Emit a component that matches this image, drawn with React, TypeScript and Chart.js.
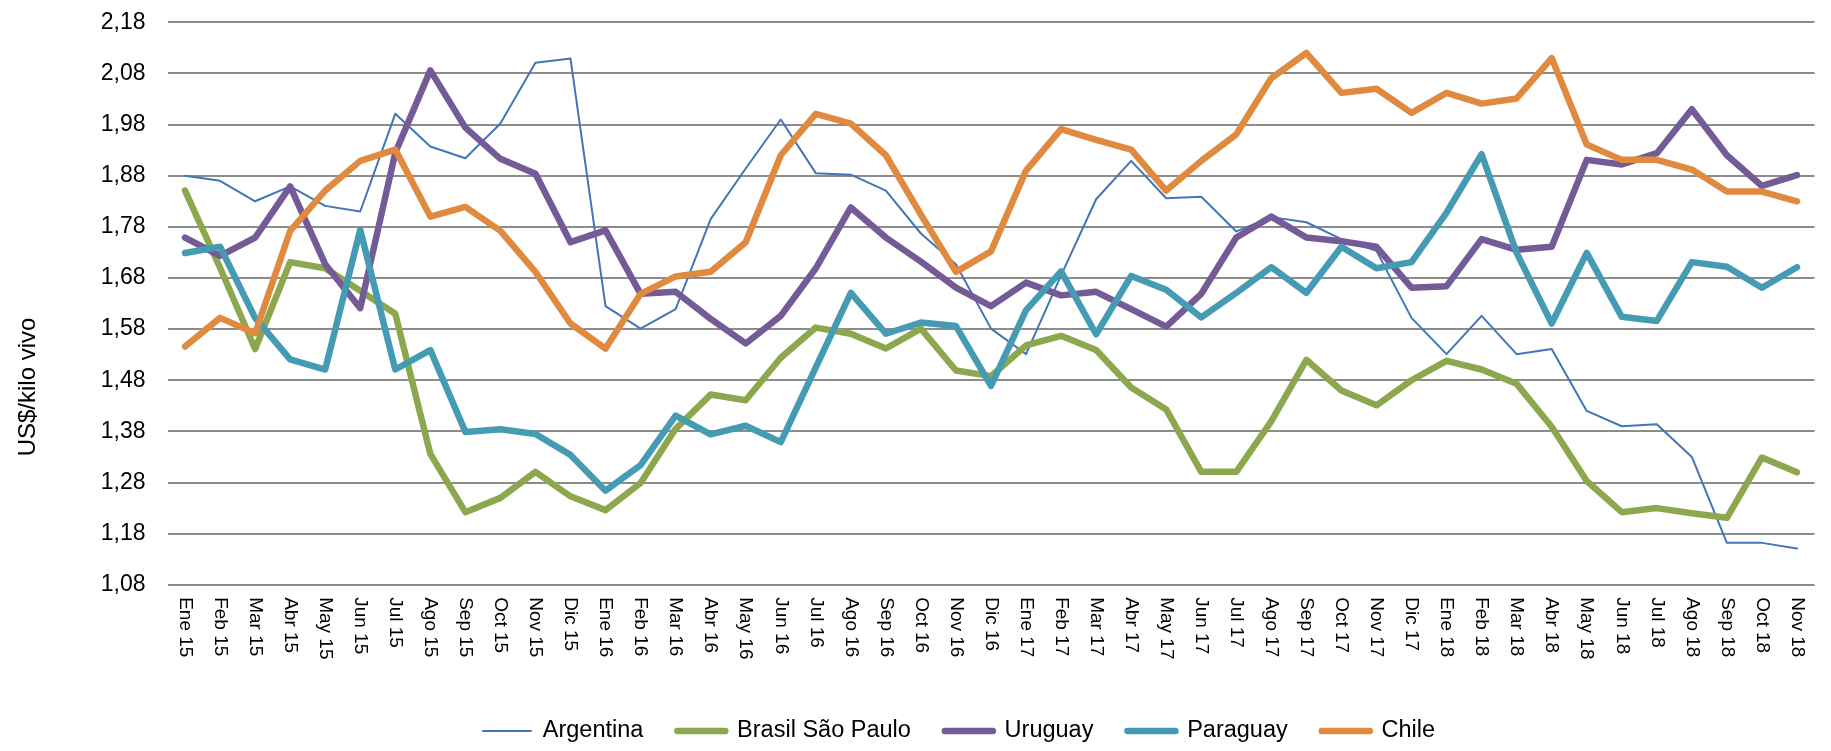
import React, { useEffect, useRef } from "react";
import { Chart, registerables } from "chart.js";

Chart.register(...registerables);

const labels = [
  "Ene 15", "Feb 15", "Mar 15", "Abr 15", "May 15", "Jun 15", "Jul 15", "Ago 15", "Sep 15", "Oct 15", "Nov 15", "Dic 15",
  "Ene 16", "Feb 16", "Mar 16", "Abr 16", "May 16", "Jun 16", "Jul 16", "Ago 16", "Sep 16", "Oct 16", "Nov 16", "Dic 16",
  "Ene 17", "Feb 17", "Mar 17", "Abr 17", "May 17", "Jun 17", "Jul 17", "Ago 17", "Sep 17", "Oct 17", "Nov 17", "Dic 17",
  "Ene 18", "Feb 18", "Mar 18", "Abr 18", "May 18", "Jun 18", "Jul 18", "Ago 18", "Sep 18", "Oct 18", "Nov 18",
];

const argentina = [
  1.88, 1.87, 1.83, 1.859, 1.821, 1.81, 2.001, 1.937, 1.914, 1.982, 2.101, 2.109,
  1.625, 1.581, 1.619, 1.795, 1.894, 1.99, 1.885, 1.882, 1.851, 1.767, 1.707, 1.581,
  1.531, 1.685, 1.834, 1.909, 1.836, 1.839, 1.771, 1.799, 1.789, 1.756, 1.733, 1.602,
  1.531, 1.606, 1.531, 1.541, 1.42, 1.39, 1.394, 1.33, 1.162, 1.162, 1.151,
];

const brasil = [
  1.851, 1.7, 1.541, 1.711, 1.699, 1.655, 1.61, 1.336, 1.222, 1.25, 1.301, 1.253,
  1.226, 1.279, 1.385, 1.452, 1.441, 1.524, 1.583, 1.571, 1.542, 1.581, 1.499, 1.488,
  1.548, 1.567, 1.539, 1.466, 1.423, 1.301, 1.301, 1.4, 1.52, 1.46, 1.431, 1.48,
  1.518, 1.501, 1.473, 1.389, 1.283, 1.222, 1.23, 1.22, 1.211, 1.329, 1.3,
];

const uruguay = [
  1.759, 1.723, 1.759, 1.859, 1.707, 1.621, 1.925, 2.086, 1.974, 1.913, 1.884, 1.75,
  1.773, 1.649, 1.653, 1.6, 1.552, 1.606, 1.699, 1.818, 1.759, 1.712, 1.661, 1.625,
  1.671, 1.646, 1.653, 1.619, 1.585, 1.649, 1.759, 1.8, 1.759, 1.752, 1.741, 1.661,
  1.664, 1.756, 1.735, 1.741, 1.911, 1.902, 1.924, 2.01, 1.92, 1.86, 1.881,
];

const paraguay = [
  1.729, 1.741, 1.602, 1.521, 1.501, 1.774, 1.501, 1.539, 1.379, 1.384, 1.375, 1.334,
  1.264, 1.314, 1.411, 1.374, 1.391, 1.359, 1.505, 1.651, 1.571, 1.593, 1.586, 1.469,
  1.617, 1.693, 1.57, 1.684, 1.657, 1.603, 1.651, 1.701, 1.651, 1.741, 1.699, 1.711,
  1.808, 1.922, 1.729, 1.591, 1.729, 1.604, 1.596, 1.711, 1.702, 1.661, 1.701,
];

const chile = [
  1.546, 1.602, 1.572, 1.772, 1.851, 1.909, 1.931, 1.8, 1.819, 1.772, 1.692, 1.591,
  1.542, 1.649, 1.683, 1.692, 1.75, 1.92, 2.001, 1.982, 1.92, 1.804, 1.692, 1.732,
  1.89, 1.971, 1.95, 1.931, 1.851, 1.909, 1.961, 2.071, 2.12, 2.042, 2.05, 2.003,
  2.042, 2.021, 2.031, 2.11, 1.941, 1.911, 1.911, 1.892, 1.849, 1.849, 1.83,
];

const yTicks = [1.08, 1.18, 1.28, 1.38, 1.48, 1.58, 1.68, 1.78, 1.88, 1.98, 2.08, 2.18];

const seriesNames = ["Argentina", "Brasil São Paulo", "Uruguay", "Paraguay", "Chile"];
const seriesData = [argentina, brasil, uruguay, paraguay, chile];
const seriesColors = ["#4475b5", "#8ca74d", "#745a96", "#449bb3", "#df8a3f"];
const seriesWidths = [2, 6.5, 6.5, 6.5, 6.5];
const yTitle = "US$/kilo vivo";

const FONT = "'Liberation Sans', Arial, Helvetica, sans-serif";
const LEGEND_FONT = 23.5;
const LEGEND_PAD = 34;

const customPlugin = {
  id: "customLayout",
  afterLayout(chart: any) {
    const lg = chart.legend;
    if (!lg || !lg.lineWidths) return;
    const curX = (lg.left + LEGEND_PAD + lg.right - lg.lineWidths[0]) / 2;
    const dx = 483 - curX;
    lg.left += dx;
    lg.right += dx;
    const curY = lg.top + LEGEND_PAD + LEGEND_FONT / 2;
    const dy = 731 - curY;
    lg.top += dy;
    lg.bottom += dy;
  },
  afterDraw(chart: any) {
    const ctx = chart.ctx;
    const xs = chart.scales.x;
    const area = chart.chartArea;
    ctx.save();
    ctx.fillStyle = "#000";
    ctx.font = `19px ${FONT}`;
    ctx.textAlign = "left";
    ctx.textBaseline = "middle";
    labels.forEach((lab, i) => {
      const x = xs.getPixelForValue(i);
      ctx.save();
      ctx.translate(x, area.bottom + 12.4);
      ctx.rotate(Math.PI / 2);
      ctx.fillText(lab, 0, 0);
      ctx.restore();
    });
    ctx.font = `24px ${FONT}`;
    ctx.textAlign = "center";
    ctx.translate(28, 387);
    ctx.rotate(-Math.PI / 2);
    ctx.fillText(yTitle, 0, 0);
    ctx.restore();
  },
};

export default function App() {
  const ref = useRef<HTMLCanvasElement>(null);
  useEffect(() => {
    if (!ref.current) return;
    const datasets = seriesNames.map((name, i) => ({
      label: name,
      data: seriesData[i],
      borderColor: seriesColors[i],
      backgroundColor: seriesColors[i],
      borderWidth: seriesWidths[i],
      pointRadius: 0,
      pointHoverRadius: 0,
      tension: 0,
      fill: false,
      borderJoinStyle: "round" as const,
      borderCapStyle: "round" as const,
      order: seriesNames.length - i,
    }));
    const chart = new Chart(ref.current, {
      type: "line",
      data: { labels, datasets },
      options: {
        animation: false,
        responsive: true,
        maintainAspectRatio: false,
        layout: { padding: { top: 22.3, right: 16.5, left: 0, bottom: 0 } },
        plugins: {
          tooltip: { enabled: false },
          legend: {
            display: true,
            position: "bottom",
            labels: {
              usePointStyle: true,
              pointStyle: "line",
              pointStyleWidth: 48,
              padding: LEGEND_PAD,
              color: "#000",
              font: { family: FONT, size: LEGEND_FONT },
              generateLabels: (c: any) =>
                c.data.datasets.map((ds: any, i: number) => ({
                  text: ds.label,
                  fillStyle: ds.borderColor,
                  strokeStyle: ds.borderColor,
                  lineWidth: ds.borderWidth,
                  lineCap: "round",
                  pointStyle: "line",
                  hidden: false,
                  datasetIndex: i,
                  fontColor: "#000",
                })),
            },
          },
        },
        scales: {
          x: {
            offset: true,
            grid: { display: false },
            border: { display: false },
            ticks: { display: false },
            afterFit: (s: any) => {
              s.height = 98.7;
            },
          },
          y: {
            min: 1.08,
            max: 2.18,
            afterBuildTicks: (s: any) => {
              s.ticks = yTicks.map((v) => ({ value: v }));
            },
            ticks: {
              callback: (v: any) => Number(v).toFixed(2).replace(".", ","),
              font: { family: FONT, size: 23 },
              color: "#000",
              padding: 22,
            },
            grid: { color: "#8c8c8c", lineWidth: 2, drawTicks: false },
            border: { display: false },
            afterFit: (s: any) => {
              s.width = 167.5;
              s.paddingTop = 10;
              s.paddingBottom = 10;
            },
          },
        },
      },
      plugins: [customPlugin],
    });
    return () => chart.destroy();
  }, []);
  return (
    <div style={{ position: "fixed", left: 0, top: 0, width: 1831, height: 751, background: "#fff" }}>
      <canvas ref={ref} />
    </div>
  );
}
